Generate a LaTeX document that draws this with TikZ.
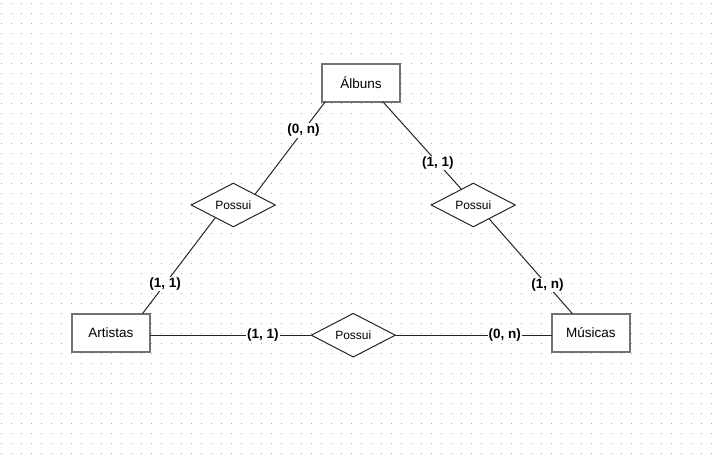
\documentclass[tikz,border=0pt]{standalone}
\usepackage{fontspec}
\setmainfont{Liberation Sans}
\usetikzlibrary{shapes,positioning}
\begin{document}
\begin{tikzpicture}[x=1pt,y=-1pt]
  \tikzstyle{enode} = [draw=black!55, line width=2pt, fill=white, minimum width=78pt, minimum height=38pt, inner sep=0pt, outer sep=0pt, font=\fontsize{13.5}{16}\selectfont]
  \tikzstyle{rnode} = [draw=black!85, line width=1pt, fill=white, diamond, aspect=1.93, minimum width=84pt, minimum height=43.5pt, inner sep=0pt, outer sep=0pt, font=\fontsize{12}{14}\selectfont]
  \tikzstyle{lnode} = [fill=white, inner sep=1pt, font=\bfseries\fontsize{13.5}{16}\selectfont]
  \tikzstyle{link} = [draw=black!85, line width=1pt]
  \tikzstyle{griddot} = [draw=black!32, line width=1pt, dash pattern=on 1pt off 9pt]

  % background and dotted grid
  \fill[white] (0,0) rectangle (713,461);
  \useasboundingbox (0,0) rectangle (713,461);
  \foreach \gy in {0,...,45}
    \draw[griddot] (1.2,{3.3+10*\gy}) -- (713,{3.3+10*\gy});

  % entities
  \node[enode] (albuns) at (361,82.7) {Álbuns};
  \node[enode] (artistas) at (110.8,332.7) {Artistas};
  \node[enode] (musicas) at (590.8,332.7) {Músicas};

  % relationships
  \node[rnode] (possuiA) at (233.3,205) {Possui};
  \node[rnode] (possuiB) at (473.3,205) {Possui};
  \node[rnode] (possuiC) at (353.3,335.2) {Possui};

  \draw[link] (albuns.208.4) -- node[lnode,pos=0.31]{(0, n)} (possuiA.26.9);
  \draw[link] (albuns.-41.9) -- node[lnode,pos=0.70]{(1, 1)} (possuiB.127.6);
  \draw[link] (possuiA.215.4) -- node[lnode,pos=0.69]{(1, 1)} (artistas.31.1);
  \draw[link] (possuiB.-41.7) -- node[lnode,pos=0.70]{(1, n)} (musicas.134.7);
  \draw[link] (artistas.east |- possuiC.west) -- node[lnode,pos=0.70]{(1, 1)} (possuiC.west);
  \draw[link] (possuiC.east) -- node[lnode,pos=0.70]{(0, n)} (musicas.west |- possuiC.east);
\end{tikzpicture}
\end{document}
